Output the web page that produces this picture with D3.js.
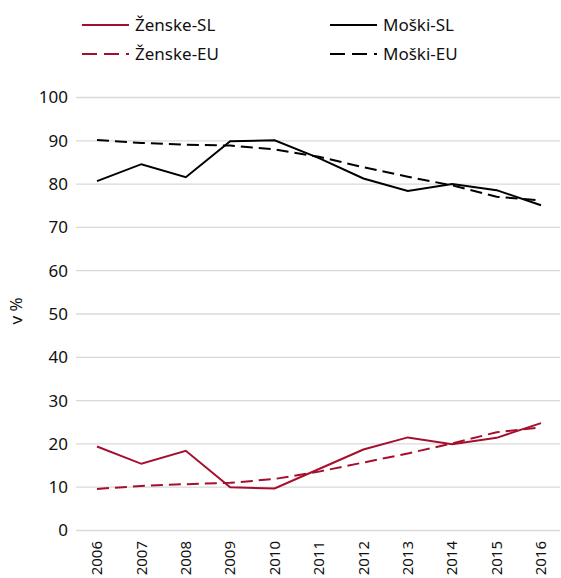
<!DOCTYPE html>
<html>
<head>
<meta charset="utf-8">
<script src="https://cdn.jsdelivr.net/npm/d3@7"></script>
<style>
  body { margin: 0; background: #fff; }
  text { font-family: "Noto Sans", "Open Sans", sans-serif; fill: #111; }
</style>
</head>
<body>
<script>
// Podatki
const years = ["2006", "2007", "2008", "2009", "2010", "2011", "2012", "2013", "2014", "2015", "2016"];
const zenskeSL = [19.4, 15.4, 18.4, 10.0, 9.7, 14.2, 18.7, 21.5, 19.9, 21.4, 24.8];
const moskiSL = [80.7, 84.6, 81.6, 89.9, 90.1, 86.0, 81.3, 78.4, 80.0, 78.6, 75.1];
const zenskeEU = [9.6, 10.3, 10.7, 11.0, 11.9, 13.6, 15.7, 17.8, 20.1, 22.7, 23.8];
const moskiEU = [90.2, 89.5, 89.1, 88.9, 88.0, 86.3, 83.9, 81.7, 79.7, 77.1, 76.2];
const yTicks = [0, 10, 20, 30, 40, 50, 60, 70, 80, 90, 100];

const red = "#a50f2d";
const series = [
    { name: "Ženske-SL", values: zenskeSL, color: red, dash: null },
    { name: "Moški-SL", values: moskiSL, color: "#000", dash: null },
    { name: "Ženske-EU", values: zenskeEU, color: red, dash: "12,6" },
    { name: "Moški-EU", values: moskiEU, color: "#000", dash: "12,6" }
];

const width = 561, height = 578;
const svg = d3.select("body").append("svg").attr("width", width).attr("height", height);

const x = d3.scalePoint().domain(years).range([97, 541]);
const y = d3.scaleLinear().domain([0, 100]).range([530.5, 97.5]);

// mreža
svg.append("g")
    .selectAll("line")
    .data(yTicks)
    .enter()
    .append("line")
    .attr("x1", 76).attr("x2", 560)
    .attr("y1", d => y(d)).attr("y2", d => y(d))
    .attr("stroke", "#d9d9d9").attr("stroke-width", 1.3);

// oznake osi y
svg.append("g")
    .selectAll("text")
    .data(yTicks)
    .enter()
    .append("text")
    .attr("x", 68).attr("y", d => y(d)).attr("dy", "0.35em")
    .attr("text-anchor", "end")
    .style("font-size", "17px")
    .text(d => d);

// oznake osi x
svg.append("g")
    .selectAll("text")
    .data(years)
    .enter()
    .append("text")
    .attr("transform", d => "translate(" + x(d) + ",541) rotate(-90)")
    .attr("dy", "0.35em")
    .attr("text-anchor", "end")
    .style("font-size", "15px")
    .text(d => d);

svg.append("text")
    .attr("transform", "translate(16,311) rotate(-90)")
    .attr("text-anchor", "middle")
    .attr("dy", "0.35em")
    .style("font-size", "17px")
    .text("v %");

// črte
const line = d3.line().x((d, i) => x(years[i])).y(d => y(d));
svg.append("g")
    .selectAll("path")
    .data(series)
    .enter()
    .append("path")
    .attr("d", d => line(d.values))
    .attr("fill", "none")
    .attr("stroke", d => d.color)
    .attr("stroke-width", 2)
    .attr("stroke-dasharray", d => d.dash);

// legenda
const legend = svg.append("g")
    .selectAll("g")
    .data(series)
    .enter()
    .append("g")
    .attr("transform", (d, i) => "translate(" + (i % 2 === 0 ? 82 : 330) + "," + (i < 2 ? 25 : 54) + ")");

legend.append("line")
    .attr("x1", 0).attr("x2", 47)
    .attr("stroke", d => d.color)
    .attr("stroke-width", 2)
    .attr("stroke-dasharray", d => d.dash ? "15,7" : null);

legend.append("text")
    .attr("x", 53).attr("dy", "0.35em")
    .style("font-size", "17px")
    .text(d => d.name);
</script>
</body>
</html>
